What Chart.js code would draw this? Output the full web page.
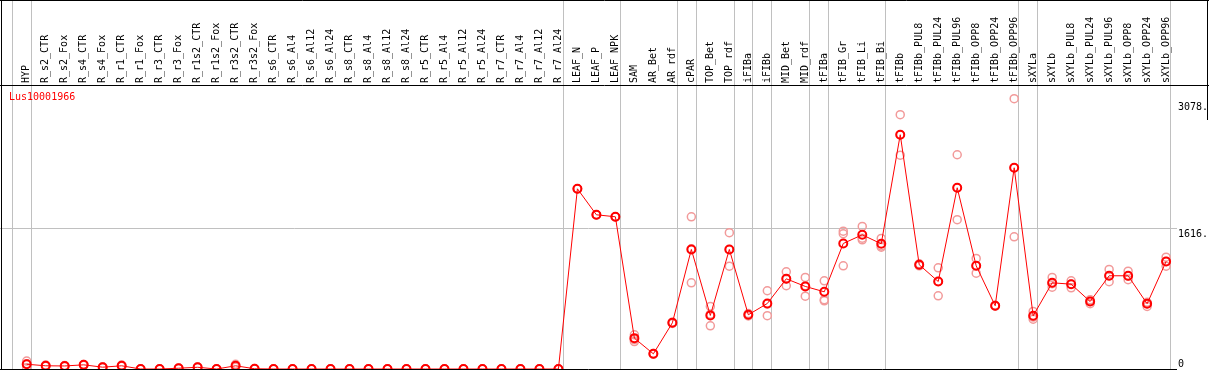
<!DOCTYPE html>
<html>
<head>
<meta charset="utf-8">
<script src="https://cdn.jsdelivr.net/npm/chart.js@4.4.1/dist/chart.umd.min.js"></script>
<style>
  html, body { margin: 0; padding: 0; background: #fff; }
  #wrap { width: 1209px; height: 370px; }
</style>
</head>
<body>
<div id="wrap"><canvas id="chart_expression" width="1209" height="370"></canvas></div>
<script>
const geneId = 'Lus10001966';

const categories = [
  'HYP',
  'R_s2_CTR', 'R_s2_Fox', 'R_s4_CTR', 'R_s4_Fox', 'R_r1_CTR', 'R_r1_Fox', 'R_r3_CTR', 'R_r3_Fox',
  'R_r1s2_CTR', 'R_r1s2_Fox', 'R_r3s2_CTR', 'R_r3s2_Fox',
  'R_s6_CTR', 'R_s6_Al4', 'R_s6_Al12', 'R_s6_Al24', 'R_s8_CTR', 'R_s8_Al4', 'R_s8_Al12', 'R_s8_Al24',
  'R_r5_CTR', 'R_r5_Al4', 'R_r5_Al12', 'R_r5_Al24', 'R_r7_CTR', 'R_r7_Al4', 'R_r7_Al12', 'R_r7_Al24',
  'LEAF_N', 'LEAF_P', 'LEAF_NPK',
  'SAM', 'AR_Bet', 'AR_rdf', 'cPAR', 'TOP_Bet', 'TOP_rdf', 'iFIBa', 'iFIBb', 'MID_Bet', 'MID_rdf',
  'tFIBa', 'tFIB_Gr', 'tFIB_Li', 'tFIB_Bi', 'tFIBb',
  'tFIBb_PUL8', 'tFIBb_PUL24', 'tFIBb_PUL96', 'tFIBb_OPP8', 'tFIBb_OPP24', 'tFIBb_OPP96',
  'sXYLa', 'sXYLb',
  'sXYLb_PUL8', 'sXYLb_PUL24', 'sXYLb_PUL96', 'sXYLb_OPP8', 'sXYLb_OPP24', 'sXYLb_OPP96'
];

// mean expression
const meanValues = [
  55, 37, 35, 48, 21, 37, 0, 0, 9, 20, 0, 37, 3,
  0, 0, 0, 0, 0, 0, 0, 0, 0, 0, 0, 0, 0, 0, 0, 0,
  2080, 1780, 1757,
  356, 175, 533, 1380, 618, 1380, 626, 756, 1041, 953,
  891, 1449, 1549, 1445, 2704, 1203, 1010, 2092, 1191, 730, 2323,
  614, 995, 979, 779, 1076, 1076, 753, 1241
];

// replicates
const rep1 = [
  92, 45, 40, 52, 25, 45, 0, 0, 12, 24, 0, 55, 5,
  0, 0, 0, 0, 0, 0, 0, 0, 0, 0, 0, 0, 0, 0, 0, 0,
  2080, 1780, 1757,
  395, 180, 540, 1757, 722, 1573, 640, 903, 1122, 1057,
  1018, 1591, 1645, 1507, 2935, 1215, 1168, 2473, 1276, 735, 3120,
  664, 1057, 1018, 800, 1149, 1129, 770, 1291
];
const rep2 = [
  60, 35, 35, 48, 20, 35, 0, 0, 9, 20, 0, 35, 3,
  0, 0, 0, 0, 0, 0, 0, 0, 0, 0, 0, 0, 0, 0, 0, 0,
  2080, 1780, 1757,
  340, 175, 533, 1388, 633, 1380, 626, 750, 1040, 961,
  800, 1561, 1510, 1420, 2704, 1203, 1010, 2092, 1191, 730, 2323,
  600, 985, 980, 779, 1076, 1070, 753, 1241
];
const rep3 = [
  13, 31, 30, 44, 18, 31, 0, 0, 6, 16, 0, 21, 1,
  0, 0, 0, 0, 0, 0, 0, 0, 0, 0, 0, 0, 0, 0, 0, 0,
  2080, 1780, 1757,
  317, 170, 526, 995, 499, 1187, 612, 615, 961, 841,
  787, 1191, 1491, 1406, 2468, 1191, 845, 1723, 1106, 725, 1526,
  575, 944, 937, 753, 1007, 1030, 722, 1187
];

const yTicks = [0, 1616, 3078];
// index of the last sample in each group (-1 = before first)
const groupEnds = [-1, 0, 28, 31, 34, 35, 37, 38, 39, 41, 42, 45, 52, 53, 60];

const font = { family: "'DejaVu Sans Mono', monospace", size: 10 };
const toPoints = arr => arr.map((v, i) => ({ x: i, y: v }));

const frameLines = {
  id: 'frameLines',
  beforeDatasetsDraw(chart) {
    const { ctx, scales: { x } } = chart;
    ctx.save();
    ctx.strokeStyle = '#c0c0c0';
    ctx.lineWidth = 1;
    groupEnds.forEach(g => {
      const px = Math.round(x.getPixelForValue(g + 0.22)) + 0.5;
      ctx.beginPath();
      ctx.moveTo(px, 0);
      ctx.lineTo(px, chart.height);
      ctx.stroke();
    });
    ctx.restore();
  },
  afterDraw(chart) {
    const { ctx, chartArea } = chart;
    ctx.save();
    ctx.strokeStyle = '#000';
    ctx.lineWidth = 1;
    ctx.beginPath();
    ctx.moveTo(0, 0.5); ctx.lineTo(chart.width, 0.5);
    ctx.moveTo(0, chartArea.top + 0.5); ctx.lineTo(chart.width, chartArea.top + 0.5);
    ctx.moveTo(1.5, 0); ctx.lineTo(1.5, chart.height);
    ctx.moveTo(0, chartArea.bottom + 0.5); ctx.lineTo(chartArea.right, chartArea.bottom + 0.5);
    ctx.moveTo(chart.width - 1.5, 0); ctx.lineTo(chart.width - 1.5, 120);
    ctx.stroke();

    ctx.fillStyle = '#ff0000';
    ctx.font = "10px 'DejaVu Sans Mono', monospace";
    ctx.textBaseline = 'middle';
    ctx.fillText(geneId, 9, chartArea.top + 12);
    ctx.restore();
  }
};

const noPad = s => { s.paddingTop = 0; s.paddingBottom = 0; s.paddingLeft = 0; s.paddingRight = 0; };

const repStyle = {
  showLine: false,
  pointRadius: 4,
  pointBorderWidth: 1.5,
  pointBorderColor: '#f29a9a',
  pointBackgroundColor: 'rgba(0,0,0,0)',
  clip: false
};

new Chart('chart_expression', {
  type: 'line',
  plugins: [frameLines],
  data: {
    datasets: [
      {
        label: geneId,
        data: toPoints(meanValues),
        borderColor: '#ff0000',
        borderWidth: 1,
        pointRadius: 4,
        pointBorderWidth: 2,
        pointBorderColor: '#ff0000',
        pointBackgroundColor: 'rgba(0,0,0,0)',
        clip: false,
        order: 0
      },
      Object.assign({ data: toPoints(rep1), order: 1 }, repStyle),
      Object.assign({ data: toPoints(rep2), order: 1 }, repStyle),
      Object.assign({ data: toPoints(rep3), order: 1 }, repStyle)
    ]
  },
  options: {
    responsive: false,
    animation: false,
    events: [],
    layout: { autoPadding: false, padding: { bottom: 1 } },
    plugins: { legend: { display: false }, tooltip: { enabled: false } },
    scales: {
      x: {
        type: 'linear',
        position: 'top',
        min: -1.406,
        max: 60.574,
        afterBuildTicks: s => { s.ticks = categories.map((c, i) => ({ value: i })); },
        afterFit: s => { s.height = 85; noPad(s); },
        ticks: {
          autoSkip: false,
          minRotation: 90,
          maxRotation: 90,
          padding: 2,
          labelOffset: 12,
          color: '#000',
          font: font,
          callback: v => categories[v]
        },
        grid: { display: false, drawTicks: false },
        border: { display: false }
      },
      y: {
        type: 'linear',
        position: 'right',
        min: 0,
        max: 3278,
        afterBuildTicks: s => { s.ticks = yTicks.map(v => ({ value: v })); },
        afterFit: s => { s.width = 32; noPad(s); },
        ticks: {
          padding: 1,
          color: '#000',
          font: Object.assign({ lineHeight: 1 }, font),
          callback: v => v === 0 ? ['0', ''] : ['', v + '.']
        },
        grid: {
          drawTicks: false,
          color: c => (c.tick && c.tick.value === 1616) ? '#c0c0c0' : 'rgba(0,0,0,0)'
        },
        border: { display: false }
      }
    }
  }
});
</script>
</body>
</html>
